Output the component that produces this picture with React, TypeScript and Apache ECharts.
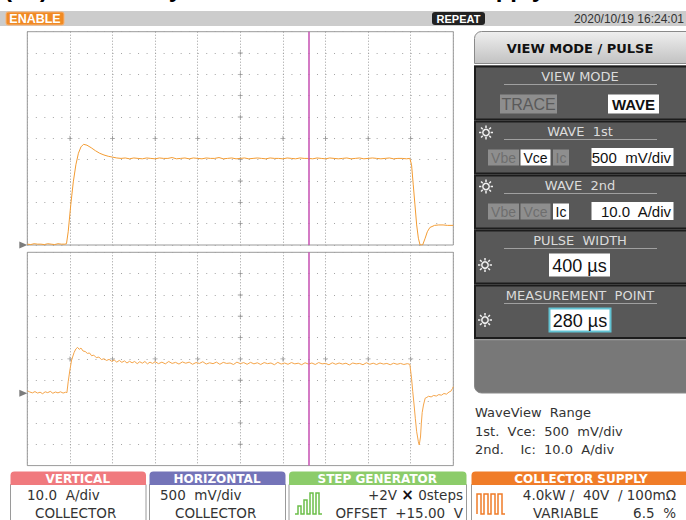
import React, { useEffect, useRef } from "react";
import * as echarts from "echarts";

// time axis (µs), 50 µs/div, pulse starts at 0 µs
const timeMin = -50;
const timeMax = 450;
const timeStep = 50;
const timeCenter = 200;
// top window: Vce, 500 mV/div
const vceMin = 0;
const vceMax = 5;
const vceStep = 0.5;
// bottom window: Ic, 10 A/div (ground 3.39 div above bottom)
const icMin = -33.9;
const icMax = 66.1;
const measurePoint = 280;

const vceTrace: [number, number][] = [
  [-50, 0.02], [-46, 0.01], [-42, 0.03], [-38, 0.02], [-34, 0.02], [-30, 0.01], [-26, 0.03], [-22, 0.02],
  [-18, 0.01], [-14, 0.03], [-10, 0.02], [-6, 0.02], [-4, 0.03], [-2, 0.31], [1, 0.94], [4, 1.48],
  [7, 1.88], [10, 2.15], [13, 2.3], [16, 2.36], [20, 2.34], [25, 2.28], [30, 2.21], [35, 2.15],
  [40, 2.11], [45, 2.08], [50, 2.06], [55, 2.04], [60, 2.03], [65, 2.04], [70, 2.02], [75, 2.04],
  [80, 2.03], [85, 2.02], [90, 2.04], [95, 2.03], [100, 2.02], [105, 2.04], [110, 2.03], [115, 2.03],
  [120, 2.05], [125, 2.02], [130, 2.03], [135, 2.04], [140, 2.02], [145, 2.04], [150, 2.03], [155, 2.02],
  [160, 2.04], [165, 2.03], [170, 2.03], [175, 2.05], [180, 2.02], [185, 2.03], [190, 2.04], [195, 2.02],
  [200, 2.03], [205, 2.04], [210, 2.02], [215, 2.03], [220, 2.04], [225, 2.03], [230, 2.02], [235, 2.04],
  [240, 2.03], [245, 2.03], [250, 2.02], [255, 2.04], [260, 2.03], [265, 2.02], [270, 2.04], [275, 2.03],
  [280, 2.03], [285, 2.02], [290, 2.04], [295, 2.03], [300, 2.02], [305, 2.04], [310, 2.03], [315, 2.02],
  [320, 2.03], [325, 2.04], [330, 2.02], [335, 2.03], [340, 2.04], [345, 2.02], [350, 2.03], [355, 2.04],
  [360, 2.03], [365, 2.02], [370, 2.03], [375, 2.04], [380, 2.02], [385, 2.03], [390, 2.03], [395, 2.02],
  [399, 2.03], [401, 1.88], [403, 1.41], [405, 0.94], [407, 0.47], [409, 0.16], [411, 0.0], [414, 0.0],
  [417, 0.16], [419.5, 0.31], [422.5, 0.41], [428, 0.46], [433, 0.47], [438, 0.47], [443, 0.46], [450, 0.46],
];

const icTrace: [number, number][] = [
  [-50, 1.2], [-47, 0.6], [-44, 0.2], [-41, 0.8], [-38, 0.1], [-35, 0.5], [-32, -0.2], [-29, 0.7],
  [-26, 0.3], [-23, 0.9], [-20, 0.0], [-17, 0.6], [-14, 0.2], [-11, 0.7], [-8, 0.1], [-5, 0.5],
  [-3.5, 0.3], [-2, 5.4], [0, 10.9], [2, 15.6], [5, 19.2], [7, 20.8], [9, 21.5], [11, 20.6],
  [13, 21.2], [15.5, 19.8], [18, 19.6], [20.5, 18.7], [23, 18.9], [25.5, 17.6], [28, 17.9], [31, 16.7],
  [34, 17.0], [37, 15.8], [40, 16.2], [43, 15.4], [46, 15.9], [49, 15.0], [52, 15.6], [55, 14.6],
  [58, 15.4], [61, 14.5], [64, 15.2], [67, 14.2], [70, 15.0], [73, 14.3], [76, 14.9], [79, 13.9],
  [82, 14.8], [85, 14.1], [88, 14.9], [91, 13.8], [94, 14.6], [97, 14.0], [100, 14.8], [104, 13.9],
  [108, 14.6], [112, 13.8], [116, 14.9], [120, 14.0], [124, 14.5], [128, 13.7], [132, 14.7], [136, 14.1],
  [140, 14.6], [144, 13.6], [148, 14.4], [152, 14.0], [156, 14.8], [160, 13.7], [164, 14.3], [168, 13.9],
  [172, 14.6], [176, 13.6], [180, 14.5], [184, 14.0], [188, 14.2], [192, 13.5], [196, 14.6], [200, 13.9],
  [204, 14.4], [208, 13.6], [212, 14.5], [216, 13.8], [220, 14.3], [224, 13.5], [228, 14.4], [232, 13.9],
  [236, 14.2], [240, 13.4], [244, 14.5], [248, 13.7], [252, 14.2], [256, 13.6], [260, 14.4], [264, 13.8],
  [268, 14.1], [272, 13.4], [276, 14.3], [280, 13.7], [284, 14.2], [288, 13.5], [292, 14.4], [296, 13.8],
  [300, 14.0], [304, 13.4], [308, 14.3], [312, 13.6], [316, 14.2], [320, 13.7], [324, 14.1], [328, 13.3],
  [332, 14.2], [336, 13.8], [340, 14.0], [344, 13.4], [348, 14.3], [352, 13.6], [356, 14.1], [360, 13.5],
  [364, 14.2], [368, 13.7], [372, 14.0], [376, 13.4], [380, 14.1], [384, 13.6], [388, 14.0], [392, 13.5],
  [396, 13.9], [399, 13.6], [401, 7.0], [402.4, 0.8], [404, -5.5], [405.4, -11.7], [407, -18.0], [409, -22.7],
  [410, -24.2], [411.5, -20.5], [412.5, -14.0], [413.5, -9.0], [415, -5.5], [417, -2.3], [419, -1.9], [421, -1.4],
  [424, -1.7], [427, -1.0], [430, -1.3], [433, -0.6], [436, -0.9], [439, -0.1], [442, -0.4], [445, 0.6],
  [447, 0.9], [449, 2.2], [450, 3.1],
];

const FONT = '"DejaVu Sans", sans-serif';
const LIB = '"Liberation Sans", Arial, sans-serif';

function txt(text: string, x: number, y: number, font: string, fill = "#333", align = "left"): any {
  return { type: "text", x, y, silent: true, style: { text, font, fill, align, textAlign: align, verticalAlign: "middle", textVerticalAlign: "middle" } };
}
function rect(x: number, y: number, w: number, h: number, fill: any, stroke?: string, lw = 1, r: any = 0): any {
  return { type: "rect", silent: true, shape: { x, y, width: w, height: h, r }, style: { fill, stroke: stroke || null, lineWidth: lw } };
}
function line(x1: number, y1: number, x2: number, y2: number, stroke: string, lw = 1): any {
  return { type: "line", silent: true, shape: { x1, y1, x2, y2 }, style: { stroke, lineWidth: lw } };
}
function sun(cx: number, cy: number): any[] {
  const els: any[] = [{ type: "circle", silent: true, shape: { cx, cy, r: 3.2 }, style: { fill: "none", stroke: "#f0f0f0", lineWidth: 1.5 } }];
  for (let i = 0; i < 8; i++) {
    const a = (i * Math.PI) / 4;
    els.push(line(cx + Math.cos(a) * 4.6, cy + Math.sin(a) * 4.6, cx + Math.cos(a) * 7, cy + Math.sin(a) * 7, "#f0f0f0", 1.5));
  }
  return els;
}

function buildGraphic(): any[] {
  const g: any[] = [];
  // cut-off caption at the top (only descenders visible in the reference)
  const cap = (t: string, x: number, align: string) =>
    g.push({ type: "text", x, y: -24, silent: true, style: { text: t, align, textAlign: align, font: `bold 24px ${LIB}`, fill: "#000" } });
  cap("( b )", 4, "left");
  cap("by", 182, "right");
  cap("supply", 545, "right");

  // status bar
  g.push(rect(0, 11, 686, 15, "#cccccc"));
  g.push(rect(6, 12, 58, 13, "#f08a24", "#f7b478", 1, 2));
  g.push(txt("ENABLE", 35, 18.8, `bold 12.5px ${LIB}`, "#fff", "center"));
  g.push(rect(432, 12, 53, 13, "#222", null as any, 1, 3));
  g.push(txt("REPEAT", 458.5, 18.8, `bold 11px ${LIB}`, "#fff", "center"));
  g.push(txt("2020/10/19 16:24:01", 684, 18.5, `12px ${LIB}`, "#333", "right"));

  // right panel header
  const grad = new echarts.graphic.LinearGradient(0, 0, 0, 1, [
    { offset: 0, color: "#efefef" },
    { offset: 1, color: "#c2c2c2" },
  ]);
  g.push(rect(474.5, 31.5, 214, 32, grad, "#8a8a8a", 1, [7, 0, 0, 0]));
  g.push(txt("VIEW MODE / PULSE", 580, 48, `bold 13px ${FONT}`, "#111", "center"));

  // panel backdrop
  g.push(rect(474, 65, 214, 275, "#a8a8a8"));
  const panels: [number, number][] = [
    [66.5, 119.5],
    [121.5, 173.5],
    [175.5, 228.5],
    [230.5, 283.5],
    [285.5, 338],
  ];
  panels.forEach(([a, b]) => g.push(rect(475, a, 214, b - a, "#585858", "#1c1c1c", 2)));
  g.push(rect(474.5, 340, 214, 53, "#787878", "#8a8a8a", 1, [0, 0, 0, 7]));

  const title = (t: string, y: number) => {
    g.push(txt(t, 580, y, `13px ${FONT}`, "#dcdcdc", "center"));
    g.push(line(504, y + 8, 657, y + 8, "#a0a0a0", 1));
  };
  // VIEW MODE
  title("VIEW MODE", 76.5);
  g.push(rect(500, 94.5, 57, 19, "#8e8e8e"));
  g.push(txt("TRACE", 528.5, 104.5, `16px ${LIB}`, "#5a5a5a", "center"));
  g.push(rect(608, 94.5, 51, 19, "#ffffff"));
  g.push(txt("WAVE", 633.5, 104.5, `bold 15px ${LIB}`, "#111", "center"));

  // WAVE 1st / 2nd
  const waveRow = (y: number, titleText: string, sel: number, value: string) => {
    title(titleText, y);
    g.push(...sun(486, y + 1));
    const by = y + 18;
    const btns: [string, number, number][] = [
      ["Vbe", 488, 31],
      ["Vce", 520.5, 30],
      ["Ic", 553, 16],
    ];
    btns.forEach(([t, x, w], i) => {
      const on = i === sel;
      g.push(rect(x, by, w, 16, on ? "#ffffff" : "#8e8e8e"));
      g.push(txt(t, x + w / 2, by + 8.5, `14px ${LIB}`, on ? "#111" : "#6e6e6e", "center"));
    });
    g.push(rect(591.5, by - 1.5, 82, 18, "#ffffff"));
    g.push(txt(value, 671, by + 8, `15px ${LIB}`, "#111", "right"));
  };
  waveRow(131.5, "WAVE  1st", 1, "500  mV/div");
  waveRow(185.5, "WAVE  2nd", 2, "10.0  A/div");

  // PULSE WIDTH / MEASUREMENT POINT
  title("PULSE  WIDTH", 240.5);
  g.push(...sun(485, 265));
  g.push(rect(549, 253.5, 61, 23, "#ffffff"));
  g.push(txt("400 µs", 579.5, 265.5, `18px ${LIB}`, "#111", "center"));
  title("MEASUREMENT  POINT", 295.5);
  g.push(...sun(485, 320));
  g.push(rect(549.5, 308.5, 61, 23, "#ffffff", "#62c3d3", 2));
  g.push(txt("280 µs", 580, 320.5, `18px ${LIB}`, "#111", "center"));

  // WaveView range text
  g.push(txt("WaveView  Range", 475, 412.5, `13px ${FONT}`, "#333"));
  g.push(txt("1st.  Vce:  500  mV/div", 475, 431, `13px ${FONT}`, "#333"));
  g.push(txt("2nd.    Ic:  10.0  A/div", 475, 449.5, `13px ${FONT}`, "#333"));

  // bottom boxes
  const box = (x: number, w: number, color: string, t: string) => {
    g.push(rect(x + 0.5, 484.5, w, 45, "#ffffff", "#9a9a9a", 1));
    g.push(rect(x + 0.5, 471.5, w, 13.5, color, null as any, 1, [4, 4, 0, 0]));
    g.push(txt(t, x + w / 2, 478.5, `bold 12px ${FONT}`, "#ffffff", "center"));
  };
  box(10, 135.5, "#f07a7e", "VERTICAL");
  box(149, 136, "#7474b8", "HORIZONTAL");
  box(288.5, 177.5, "#8ccc6a", "STEP GENERATOR");
  box(471, 220, "#f07c28", "COLLECTOR SUPPLY");
  g.push(line(466.5, 485, 466.5, 520, "#9a9a9a", 1));

  const BF = `13.5px ${FONT}`;
  g.push(txt("10.0  A/div", 27, 495, BF, "#333"));
  g.push(txt("COLLECTOR", 35, 512.5, BF, "#333"));
  g.push(txt("500  mV/div", 160, 495, BF, "#333"));
  g.push(txt("COLLECTOR", 175, 512.5, BF, "#333"));
  g.push({
    type: "text", x: 463, y: 495, silent: true,
    style: {
      text: "{a|+2V }{b|×}{a| 0steps}", align: "right", textAlign: "right", verticalAlign: "middle",
      rich: { a: { font: BF, fill: "#333" }, b: { font: `bold 15px ${FONT}`, fill: "#111" } },
    },
  });
  g.push(txt("OFFSET  +15.00  V", 463, 512.5, BF, "#333", "right"));
  g.push(txt("4.0kW /  40V  / 100mΩ", 676, 495, BF, "#333", "right"));
  g.push(txt("VARIABLE", 533, 512.5, BF, "#333"));
  g.push(txt("6.5  %", 676, 512.5, BF, "#333", "right"));

  // icons
  g.push({
    type: "polyline", silent: true,
    shape: { points: [[295, 514], [298, 514], [298, 506], [301, 506], [301, 514], [304, 514], [304, 500], [307, 500], [307, 514], [310, 514], [310, 493], [313, 493], [313, 514], [316, 514], [316, 493], [319, 493], [319, 514], [322, 514]] },
    style: { stroke: "#6cbf4a", lineWidth: 1.5, fill: "none" },
  });
  g.push({
    type: "polyline", silent: true,
    shape: { points: [[477, 514], [477, 494], [481, 494], [481, 514], [484, 514], [484, 494], [488, 494], [488, 514], [491, 514], [491, 494], [495, 494], [495, 514], [498, 514], [498, 494], [502, 494], [502, 514], [505, 514]] },
    style: { stroke: "#f07c28", lineWidth: 1.5, fill: "none" },
  });
  return g;
}

const hidden = { axisLabel: { show: false }, axisTick: { show: false }, axisLine: { show: false } };
const vSplit = { show: true, lineStyle: { color: "#9c9c9c", width: 1, type: [1, 2] as any } };
const hSplit = { show: true, lineStyle: { color: "#a4a4a4", width: 1, type: [1, 7.52] as any } };

const cursor = {
  silent: true, symbol: "none", label: { show: false },
  lineStyle: { color: "#c64fb2", width: 1.5, type: "solid" },
  data: [{ xAxis: measurePoint }],
};
const ground = (x: number) => ({
  silent: true, symbol: "triangle", symbolSize: [7, 8], symbolRotate: -90, symbolOffset: [-4, 0],
  itemStyle: { color: "#7c7c7c" }, label: { show: false },
  data: [{ coord: [x, 0] }],
});

// graticule "+" marks on the centre lines, taken from the axis divisions
function centreMarks(yMin: number, yStep: number): [number, number][] {
  const pts: [number, number][] = [];
  const yMid = yMin + yStep * 5;
  for (let i = 1; i < 10; i++) pts.push([timeCenter, yMin + yStep * i]);
  for (let i = 1; i < 10; i++) if (i !== 5) pts.push([timeMin + timeStep * i, yMid]);
  return pts;
}
const plusSymbol = "path://M-0.5,-3H0.5V-0.5H3V0.5H0.5V3H-0.5V0.5H-3V-0.5H-0.5Z";

function buildOption(): any {
  return {
    animation: false,
    backgroundColor: "#ffffff",
    grid: [
      { left: 27.3, top: 31.7, width: 426, height: 213.3, show: true, borderColor: "#9a9a9a", borderWidth: 1, backgroundColor: "#fff" },
      { left: 27.3, top: 252.3, width: 426, height: 213.3, show: true, borderColor: "#9a9a9a", borderWidth: 1, backgroundColor: "#fff" },
    ],
    xAxis: [
      { type: "value", gridIndex: 0, min: timeMin, max: timeMax, interval: timeStep, ...hidden, splitLine: vSplit },
      { type: "value", gridIndex: 1, min: timeMin, max: timeMax, interval: timeStep, ...hidden, splitLine: vSplit },
    ],
    yAxis: [
      { type: "value", gridIndex: 0, min: vceMin, max: vceMax, interval: vceStep, ...hidden, splitLine: hSplit },
      { type: "value", gridIndex: 1, min: 0, max: 10, interval: 1, ...hidden, splitLine: hSplit },
      { type: "value", gridIndex: 1, min: icMin, max: icMax, show: false, splitLine: { show: false } },
    ],
    graphic: buildGraphic(),
    series: [
      {
        type: "scatter", xAxisIndex: 0, yAxisIndex: 0, data: centreMarks(vceMin, vceStep), silent: true,
        symbol: plusSymbol, symbolSize: 5, itemStyle: { color: "#8a8a8a" }, z: 1,
      },
      {
        type: "scatter", xAxisIndex: 1, yAxisIndex: 1, data: centreMarks(0, 1), silent: true,
        symbol: plusSymbol, symbolSize: 5, itemStyle: { color: "#8a8a8a" }, z: 1,
      },
      {
        type: "line", xAxisIndex: 0, yAxisIndex: 0, data: vceTrace, showSymbol: false, symbol: "none", z: 3,
        lineStyle: { color: "#f39c33", width: 1 }, markLine: cursor, markPoint: ground(timeMin),
      },
      {
        type: "line", xAxisIndex: 1, yAxisIndex: 2, data: icTrace, showSymbol: false, symbol: "none", z: 3,
        lineStyle: { color: "#f5a54a", width: 1 }, markLine: cursor, markPoint: ground(timeMin),
      },
    ],
  };
}

export default function App() {
  const ref = useRef<HTMLDivElement>(null);
  useEffect(() => {
    document.body.style.margin = "0";
    const chart = echarts.init(ref.current!, null, { renderer: "svg" });
    chart.setOption(buildOption());
    return () => chart.dispose();
  }, []);
  return <div ref={ref} style={{ width: 686, height: 520 }} />;
}
